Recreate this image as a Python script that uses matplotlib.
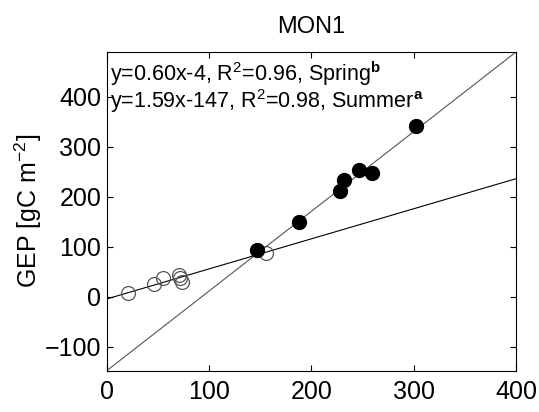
import matplotlib
matplotlib.use("Agg")
import matplotlib.pyplot as plt
import numpy as np

plt.rcParams['font.family'] = ['Liberation Sans', 'DejaVu Sans']
plt.rcParams['mathtext.fontset'] = 'custom'
plt.rcParams['mathtext.rm'] = 'Liberation Sans'
plt.rcParams['mathtext.bf'] = 'Liberation Sans:bold'

# spring (open) and summer (filled) points
spring_x = [21, 46, 55, 70, 71, 73, 156]
spring_y = [7, 25, 37, 44, 37, 30, 88]
summer_x = [147, 188, 228, 232, 246, 259, 302]
summer_y = [93, 149, 212, 233, 254, 247, 342]

# fitted lines
spring_fit = (0.60, -4)
summer_fit = (1.59, -147)

fig = plt.figure(figsize=(5.39, 4.12), dpi=100)
ax = fig.add_axes([0.1985, 0.1007, 0.7588, 0.7731])

xl = np.array([0, 400])
ax.plot(xl, spring_fit[0] * xl + spring_fit[1], color="black", lw=0.8, zorder=1)
ax.plot(xl, summer_fit[0] * xl + summer_fit[1], color="#555555", lw=0.8, zorder=1)
ax.plot(spring_x, spring_y, "o", ms=10, mfc="none", mec="#555555", mew=0.9, zorder=2)
ax.plot(summer_x, summer_y, "o", ms=10, mfc="black", mec="black", zorder=3)

ax.set_xlim(0, 400)
ax.set_ylim(-147, 489)
ax.set_xticks([0, 100, 200, 300, 400])
ax.set_yticks([-100, 0, 100, 200, 300, 400])
ax.tick_params(direction="in", top=True, right=True, labelsize=18, length=4, width=0.8)
ax.tick_params(axis="x", pad=7)
ax.tick_params(axis="y", pad=4)
for s in ax.spines.values():
    s.set_linewidth(0.8)

ax.set_title("MON1", fontsize=17, pad=14)
ax.set_ylabel("GEP [gC m$^{-2}$]", fontsize=18, labelpad=1)

ax.text(0.008, 0.932, "y=0.60x-4, R$^2$=0.96, Spring$^{\\mathbf{b}}$", transform=ax.transAxes,
        fontsize=15.5, va="center", ha="left")
ax.text(0.008, 0.845, "y=1.59x-147, R$^2$=0.98, Summer$^{\\mathbf{a}}$", transform=ax.transAxes,
        fontsize=15.5, va="center", ha="left")

fig.savefig("out.png", dpi=100)
